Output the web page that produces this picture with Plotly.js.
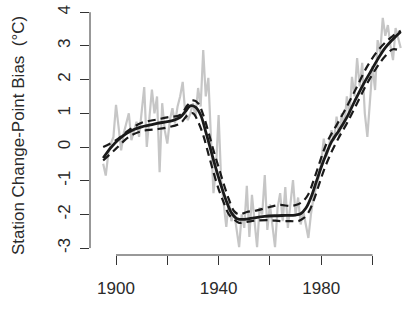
<!DOCTYPE html>
<html>
<head>
<meta charset="utf-8">
<script src="https://cdn.plot.ly/plotly-3.0.1.min.js"></script>
<style>html,body{margin:0;padding:0;background:#fff;}#chart{width:408px;height:312px;}</style>
</head>
<body>
<div id="chart"></div>
<script>
// Annual station change-point bias (grey)
const annualYears = [];
for (let y = 1895; y <= 2011; y++) annualYears.push(y);
const annualBias = [
  -0.5, -0.85, -0.2, 0.1, 0.3,            // 1895-1899
  1.25, 0.6, -0.1, 0.4, 0.7,              // 1900-1904
  1.0, 0.2, 0.5, 0.75, 0.3,               // 1905-1909
  1.0, 1.78, 0.0, 0.9, 1.7,               // 1910-1914
  1.0, 1.5, -0.75, 1.3, 0.5,              // 1915-1919
  0.1, 0.8, 1.15, 0.7, 1.2,               // 1920-1924
  1.5, 1.93, 1.0, 0.8, 1.0,               // 1925-1929
  1.3, 0.9, 1.75, 1.2, 2.88,              // 1930-1934
  1.5, 2.05, 0.3, -1.37, -0.6,            // 1935-1939
  0.95, -1.0, -1.8, -2.37, -1.6,          // 1940-1944
  -2.2, -1.9, -2.5, -2.97, -2.0,          // 1945-1949
  -2.4, -1.15, -2.67, -1.42, -2.2,        // 1950-1954
  -2.97, -1.8, -2.0, -0.83, -2.46,        // 1955-1959
  -1.7, -2.3, -2.97, -1.8, -1.37,         // 1960-1964
  -2.2, -1.19, -2.4, -1.6, -0.98,         // 1965-1969
  -2.0, -1.5, -2.3, -1.9, -2.3,           // 1970-1974
  -2.7, -2.0, -1.5, -1.2, -0.9,           // 1975-1979
  -0.47, 0.25, -0.3, 0.0, 0.5,            // 1980-1984
  0.2, 0.9, 0.3, 1.0, 0.6,                // 1985-1989
  1.5, 0.9, 2.08, 1.5, 2.64,              // 1990-1994
  1.8, 2.5, 1.0, 0.3, 1.5,                // 1995-1999
  2.4, 1.69, 3.17, 2.8, 3.83,             // 2000-2004
  3.3, 3.62, 3.0, 2.58, 3.53,             // 2005-2009
  3.2, 2.94                               // 2010-2011
];

// Smoothed fit (black)
const fitYears = [1895,1898,1901,1904,1907,1910,1913,1916,1919,1922,1925,1927,1929,1931,1933,1935,1937,1939,1941,1943,1945,1947,1950,1954,1958,1962,1966,1970,1972,1974,1976,1978,1980,1982,1984,1987,1990,1993,1996,1999,2002,2005,2008,2011];
const fitBias  = [-0.33,-0.02,0.22,0.4,0.52,0.6,0.65,0.7,0.74,0.78,0.88,1.05,1.22,1.18,0.95,0.45,-0.1,-0.65,-1.15,-1.6,-1.95,-2.12,-2.15,-2.1,-2.06,-2.04,-2.03,-2.02,-1.98,-1.82,-1.5,-1.05,-0.6,-0.2,0.15,0.5,0.88,1.35,1.8,2.2,2.6,2.95,3.2,3.42];

// Upper and lower bounds (dashed)
const upperYears = [1895,1900,1905,1910,1915,1920,1925,1928,1930,1932,1934,1936,1938,1940,1942,1944,1946,1948,1951,1955,1960,1964,1968,1971,1973,1975,1977,1979,1981,1983,1986,1990,1994,1998,2002,2005,2008,2011];
const upperBias  = [0.0,0.2,0.5,0.72,0.8,0.88,0.95,1.25,1.38,1.3,0.95,0.45,-0.1,-0.6,-1.1,-1.55,-1.9,-2.0,-1.93,-1.88,-1.78,-1.72,-1.75,-1.7,-1.6,-1.4,-1.0,-0.55,-0.1,0.25,0.65,1.2,1.8,2.4,2.85,3.1,3.3,3.45];
const lowerYears = [1895,1900,1905,1910,1915,1920,1925,1928,1930,1932,1934,1936,1938,1940,1942,1944,1946,1948,1951,1955,1960,1964,1968,1971,1973,1975,1977,1979,1981,1984,1987,1990,1994,1998,2002,2005,2008,2011];
const lowerBias  = [-0.4,-0.05,0.3,0.47,0.52,0.58,0.7,0.95,1.0,0.75,0.35,-0.2,-0.75,-1.25,-1.65,-2.0,-2.15,-2.25,-2.22,-2.18,-2.17,-2.2,-2.2,-2.2,-2.12,-1.95,-1.6,-1.15,-0.7,-0.15,0.3,0.7,1.3,1.9,2.4,2.7,2.9,2.85];

const xTickVals = [1900, 1920, 1940, 1960, 1980, 2000];
const xTickText = ['1900', '', '1940', '', '1980', ''];
const yTickVals = [-3, -2, -1, 0, 1, 2, 3, 4];
const yTickText = ['-3', '-2', '-1', '0', '1', '2', '3', '4'];
const yTitle = 'Station Change-Point Bias\u00a0\u00a0(°C)';

const font = 'Liberation Sans, Arial, Helvetica, sans-serif';
const axisColor = '#333333';
const textColor = '#2a2a2a';

const traces = [
  {x: annualYears, y: annualBias, type: 'scatter', mode: 'lines',
   line: {color: '#c6c6c6', width: 2.2}, hoverinfo: 'skip'},
  {x: upperYears, y: upperBias, type: 'scatter', mode: 'lines',
   line: {color: '#1a1a1a', width: 2.2, dash: '8px,5px', shape: 'spline'}},
  {x: lowerYears, y: lowerBias, type: 'scatter', mode: 'lines',
   line: {color: '#1a1a1a', width: 2.2, dash: '8px,5px', shape: 'spline'}},
  {x: fitYears, y: fitBias, type: 'scatter', mode: 'lines',
   line: {color: '#1a1a1a', width: 2.8, shape: 'spline'}}
];

const layout = {
  width: 408, height: 312,
  margin: {l: 90, r: 0, t: 3, b: 57},
  paper_bgcolor: '#ffffff', plot_bgcolor: '#ffffff',
  showlegend: false,
  font: {family: font, size: 17, color: textColor},
  xaxis: {
    range: [1889.86, 2013.84], showgrid: false, zeroline: false, showline: false,
    tickmode: 'array', tickvals: xTickVals, ticktext: xTickText,
    ticks: 'outside', ticklen: 9, tickwidth: 1, tickcolor: axisColor,
    tickfont: {family: font, size: 17, color: textColor},
    ticklabelstandoff: 9
  },
  yaxis: {
    range: [-3.205, 4.273], showgrid: false, zeroline: false, showline: false,
    tickmode: 'array', tickvals: yTickVals, ticktext: yTickText,
    ticks: 'outside', ticklen: 9, tickwidth: 1, tickcolor: axisColor,
    tickangle: -90,
    tickfont: {family: font, size: 17, color: textColor},
    ticklabelstandoff: 3
  },
  shapes: [
    {type: 'line', xref: 'paper', yref: 'y', x0: 0, x1: 0,
     y0: Math.min(...yTickVals), y1: Math.max(...yTickVals),
     line: {color: axisColor, width: 1}},
    {type: 'line', xref: 'x', yref: 'paper', y0: 0, y1: 0,
     x0: Math.min(...xTickVals), x1: Math.max(...xTickVals),
     line: {color: axisColor, width: 1}}
  ],
  annotations: [
    {text: yTitle, xref: 'paper', yref: 'paper', x: -0.2264, y: 0.472,
     textangle: -90, showarrow: false, xanchor: 'center', yanchor: 'middle',
     font: {family: font, size: 17, color: textColor}}
  ]
};

Plotly.newPlot('chart', traces, layout, {displayModeBar: false, staticPlot: true});
</script>
</body>
</html>
